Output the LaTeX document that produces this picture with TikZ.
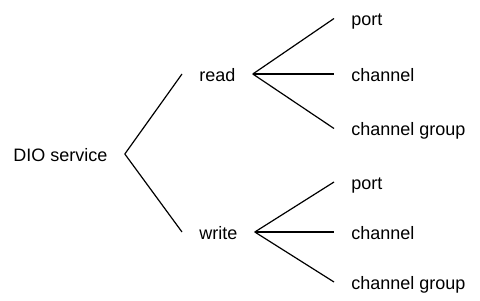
\documentclass[tikz,border=0pt]{standalone}
\usepackage{fontspec}
\setmainfont{Liberation Sans}
\usetikzlibrary{positioning}

\begin{document}
\begin{tikzpicture}[
      x=0.5pt, y=-0.5pt,
      treenode/.style={anchor=west, inner xsep=8.5pt, inner ysep=0pt,
        text height=0.8em, text depth=0.08em,
        font=\fontsize{9}{11}\selectfont},
      branch/.style={line width=0.6pt}
    ]
      \useasboundingbox (0,0) rectangle (480,300);
      % root and its two operations
      \node[treenode] (dio) at (-4,154) {DIO service};
      \node[treenode] (read) at (182,74) {read};
      \node[treenode] (write) at (182,232) {write};
      % targets of read
      \node[treenode] (rport) at (334,18.5) {port};
      \node[treenode] (rchan) at (334,74) {channel};
      \node[treenode] (rgroup) at (334,128.5) {channel group};
      % targets of write
      \node[treenode] (wport) at (334,182) {port};
      \node[treenode] (wchan) at (334,232) {channel};
      \node[treenode] (wgroup) at (334,282) {channel group};
      \draw[branch] (dio.east) -- (read.west);
      \draw[branch] (dio.east) -- (write.west);
      \draw[branch] (read.east) -- (rport.west);
      \draw[branch] (read.east) -- (rchan.west);
      \draw[branch] (read.east) -- (rgroup.west);
      \draw[branch] (write.east) -- (wport.west);
      \draw[branch] (write.east) -- (wchan.west);
      \draw[branch] (write.east) -- (wgroup.west);
    \end{tikzpicture}
\end{document}
